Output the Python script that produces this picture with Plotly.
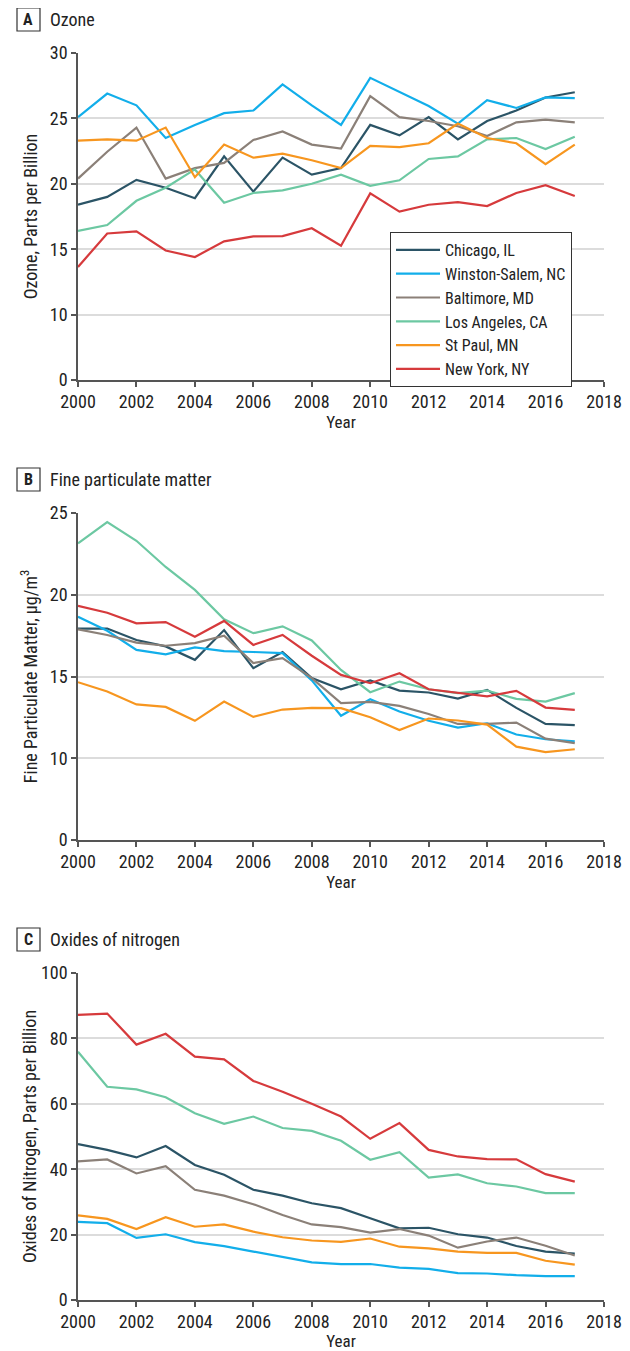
import plotly.graph_objects as go

years = list(range(2000, 2018))
cities = ["Chicago, IL", "Winston-Salem, NC", "Baltimore, MD", "Los Angeles, CA", "St Paul, MN", "New York, NY"]
colors = ["#2b5466", "#12aeea", "#8b8078", "#6cc8a2", "#f7961f", "#d63a3c"]

ozone_chicago = [18.4, 19.0, 20.3, 19.7, 18.9, 22.1, 19.4, 22.0, 20.7, 21.2, 24.5, 23.7, 25.1, 23.4, 24.8, 25.6, 26.6, 27.0]
ozone_winston = [25.1, 26.9, 26.0, 23.5, 24.5, 25.4, 25.6, 27.6, 26.0, 24.5, 28.1, 27.0, 25.95, 24.6, 26.4, 25.8, 26.6, 26.55]
ozone_baltimore = [20.4, 22.45, 24.3, 20.4, 21.2, 21.6, 23.35, 24.0, 23.0, 22.7, 26.7, 25.1, 24.8, 24.4, 23.65, 24.7, 24.9, 24.7]
ozone_la = [16.4, 16.85, 18.7, 19.7, 21.1, 18.55, 19.3, 19.5, 20.0, 20.7, 19.85, 20.27, 21.9, 22.1, 23.4, 23.5, 22.66, 23.6]
ozone_stpaul = [23.3, 23.4, 23.3, 24.3, 20.5, 23.0, 22.0, 22.3, 21.8, 21.2, 22.9, 22.8, 23.1, 24.6, 23.5, 23.1, 21.5, 23.0]
ozone_newyork = [13.64, 16.2, 16.37, 14.9, 14.4, 15.6, 15.98, 16.0, 16.6, 15.27, 19.27, 17.87, 18.4, 18.6, 18.3, 19.3, 19.9, 19.07]

pm_chicago = [17.93, 17.93, 17.23, 16.84, 16.02, 17.84, 15.51, 16.5, 14.9, 14.22, 14.76, 14.14, 14.02, 13.65, 14.18, 13.08, 12.1, 12.02]
pm_winston = [18.66, 17.8, 16.63, 16.35, 16.78, 16.55, 16.5, 16.43, 14.76, 12.6, 13.61, 12.86, 12.29, 11.88, 12.14, 11.45, 11.16, 11.04]
pm_baltimore = [17.88, 17.54, 17.07, 16.88, 17.04, 17.5, 15.82, 16.12, 14.9, 13.37, 13.45, 13.2, 12.71, 12.1, 12.1, 12.18, 11.2, 10.92]
pm_la = [23.15, 24.45, 23.3, 21.7, 20.3, 18.5, 17.65, 18.07, 17.2, 15.4, 14.04, 14.69, 14.22, 13.98, 14.14, 13.63, 13.47, 13.98]
pm_stpaul = [14.65, 14.08, 13.29, 13.14, 12.29, 13.47, 12.53, 12.98, 13.08, 13.06, 12.51, 11.73, 12.43, 12.31, 12.06, 10.71, 10.37, 10.55]
pm_newyork = [19.32, 18.9, 18.25, 18.33, 17.43, 18.4, 16.93, 17.54, 16.27, 15.1, 14.59, 15.2, 14.22, 14.02, 13.78, 14.12, 13.1, 12.96]

no_chicago = [47.7, 45.9, 43.6, 47.1, 41.3, 38.3, 33.7, 31.9, 29.6, 28.1, 25.0, 21.9, 22.1, 20.1, 19.1, 16.5, 14.8, 14.2]
no_winston = [23.9, 23.5, 19.0, 20.1, 17.7, 16.5, 14.8, 13.1, 11.5, 11.0, 11.0, 9.9, 9.5, 8.2, 8.1, 7.6, 7.3, 7.3]
no_baltimore = [42.4, 43.0, 38.7, 40.9, 33.7, 31.9, 29.3, 26.0, 23.1, 22.3, 20.6, 21.7, 19.7, 16.0, 17.9, 19.1, 16.6, 13.6]
no_la = [75.9, 65.2, 64.4, 62.0, 57.1, 53.9, 56.1, 52.6, 51.7, 48.7, 42.9, 45.2, 37.4, 38.4, 35.7, 34.7, 32.7, 32.7]
no_stpaul = [25.9, 24.8, 21.7, 25.3, 22.4, 23.1, 20.9, 19.2, 18.2, 17.8, 18.8, 16.3, 15.8, 14.8, 14.4, 14.4, 12.0, 10.8]
no_newyork = [87.2, 87.6, 78.1, 81.4, 74.4, 73.6, 67.0, 63.7, 60.0, 56.1, 49.3, 54.1, 45.9, 43.9, 43.1, 43.0, 38.5, 36.2]

panels = [
    ("A", "Ozone", "Ozone, Parts per Billion",
     [ozone_chicago, ozone_winston, ozone_baltimore, ozone_la, ozone_stpaul, ozone_newyork],
     [5, 30], [5, 10, 15, 20, 25, 30], ["0", "10", "15", "20", "25", "30"], 8),
    ("B", "Fine particulate matter", "Fine Particulate Matter, μg/m<sup>3</sup>",
     [pm_chicago, pm_winston, pm_baltimore, pm_la, pm_stpaul, pm_newyork],
     [5, 25], [5, 10, 15, 20, 25], ["0", "10", "15", "20", "25"], 8),
    ("C", "Oxides of nitrogen", "Oxides of Nitrogen, Parts per Billion",
     [no_chicago, no_winston, no_baltimore, no_la, no_stpaul, no_newyork],
     [0, 100], [0, 20, 40, 60, 80, 100], ["0", "20", "40", "60", "80", "100"], 0),
]

OFF = 8  # page body margin
W, H = 630 - OFF, 1351 - OFF
FONT = "Liberation Sans Narrow, Roboto Condensed, Arial Narrow, Liberation Sans, sans-serif"
plot_tops = [53, 513, 973]
plot_h = 327
x0px, x1px = 78, 604
axcol = "#555555"
txtcol = "#222222"


def px(xp):
    return (xp - OFF) / W


def py(yp):
    return 1 - (yp - OFF) / H


fig = go.Figure()
shapes = []
annotations = []

for i, (letter, title, ytitle, series, yrng, tv, tt, ystand) in enumerate(panels):
    n = i + 1
    xa = "x" if n == 1 else f"x{n}"
    ya = "y" if n == 1 else f"y{n}"
    for name, col, vals in zip(cities, colors, series):
        fig.add_trace(go.Scatter(x=years, y=vals, mode="lines", name=name,
                                 line=dict(color=col, width=2.2),
                                 showlegend=(n == 1), xaxis=xa, yaxis=ya,
                                 hoverinfo="skip"))
    top = plot_tops[i]
    dom_y = [py(top + plot_h), py(top)]
    xkey = "xaxis" if n == 1 else f"xaxis{n}"
    ykey = "yaxis" if n == 1 else f"yaxis{n}"
    fig.layout[xkey] = dict(domain=[px(x0px), px(x1px)], range=[2000, 2018], anchor=ya,
                            tickvals=list(range(2000, 2019, 2)), showgrid=False,
                            showline=True, linecolor=axcol, linewidth=1.5,
                            ticks="outside", ticklen=5, tickcolor=axcol, tickwidth=1.5,
                            tickfont=dict(family=FONT, size=18, color=txtcol),
                            title=dict(text="Year", font=dict(family=FONT, size=17, color=txtcol), standoff=5),
                            zeroline=False, fixedrange=True, automargin=False)
    fig.layout[ykey] = dict(domain=dom_y, range=yrng, anchor=xa,
                            tickvals=tv, ticktext=tt, showgrid=True, gridcolor="#dcdcdc", gridwidth=1.5,
                            showline=True, linecolor=axcol, linewidth=1.5,
                            ticks="outside", ticklen=5, tickcolor=axcol, tickwidth=1.5,
                            tickfont=dict(family=FONT, size=18, color=txtcol),
                            title=dict(text=ytitle, font=dict(family=FONT, size=18, color=txtcol), standoff=ystand),
                            zeroline=False, fixedrange=True, automargin=False)
    # panel label box
    by = top - 45
    shapes.append(dict(type="rect", xref="paper", yref="paper",
                       x0=px(17), x1=px(40), y0=py(by + 23), y1=py(by),
                       line=dict(color="#333", width=1.2), fillcolor="white"))
    annotations.append(dict(text="<b>" + letter + "</b>", xref="paper", yref="paper",
                            x=px(28.5), y=py(by + 11.5), showarrow=False,
                            xanchor="center", yanchor="middle",
                            font=dict(family=FONT, size=16, color=txtcol)))
    annotations.append(dict(text=title, xref="paper", yref="paper",
                            x=px(48), y=py(by + 11.5), showarrow=False,
                            xanchor="left", yanchor="middle",
                            font=dict(family=FONT, size=18, color=txtcol)))

fig.update_layout(
    template="none",
    width=W, height=H, margin=dict(l=0, r=0, t=0, b=0, autoexpand=False),
    paper_bgcolor="white", plot_bgcolor="white",
    shapes=shapes, annotations=annotations,
    legend=dict(x=px(390), y=py(232), xanchor="left", yanchor="top",
                bordercolor="#333", borderwidth=1, bgcolor="white",
                font=dict(family=FONT, size=16, color=txtcol),
                itemwidth=44, tracegroupgap=0),
    showlegend=True,
)

fig.write_html("out.html")
